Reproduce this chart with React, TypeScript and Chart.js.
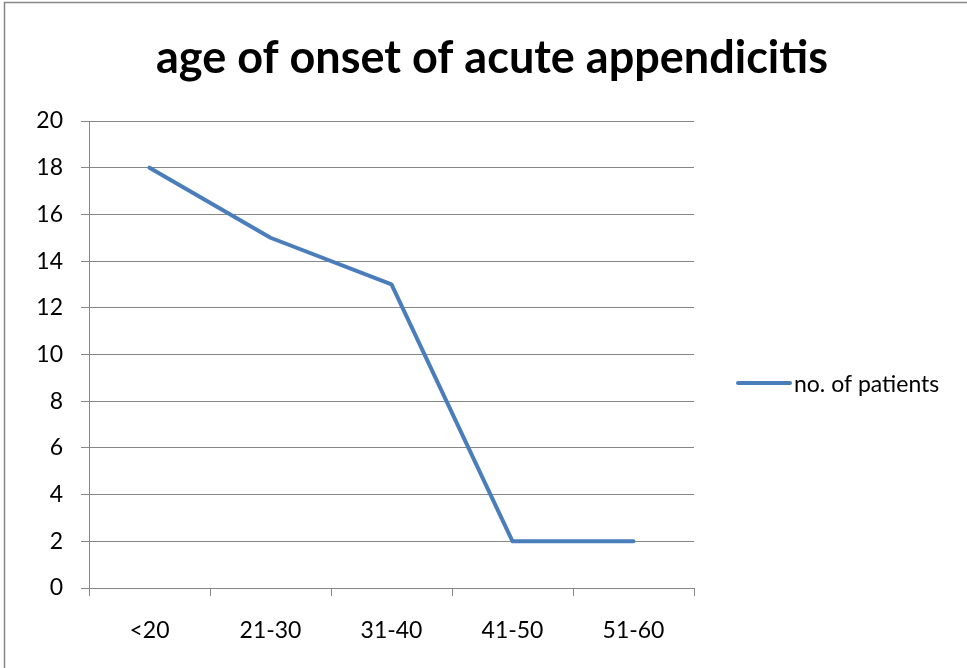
import React, { useEffect, useRef } from "react";
import { Chart, registerables } from "chart.js";

Chart.register(...registerables);

const categories = ["<20", "21-30", "31-40", "41-50", "51-60"];
const patients = [18, 15, 13, 2, 2];
const seriesName = "no. of patients";
const chartTitle = "age of onset of acute appendicitis";

const LINE_COLOR = "#4A7EBB";
const GRID_COLOR = "#868686";
const FONT = "Lato, 'Noto Sans', sans-serif";
const TICK_SIZE = 23;

const decor = {
  id: "decor",
  afterDraw(chart: any) {
    const ctx = chart.ctx;
    ctx.save();
    // outer frame
    ctx.strokeStyle = GRID_COLOR;
    ctx.lineWidth = 1.5;
    ctx.strokeRect(4.5, 2.5, 1000, 700);
    // title
    ctx.fillStyle = "#000";
    ctx.font = `bold 45px ${FONT}`;
    ctx.textAlign = "center";
    ctx.textBaseline = "alphabetic";
    ctx.fillText(chartTitle, 492, 73);
    // legend
    const ly = 383;
    ctx.strokeStyle = LINE_COLOR;
    ctx.lineWidth = 4;
    ctx.lineCap = "round";
    ctx.beginPath();
    ctx.moveTo(738, ly);
    ctx.lineTo(790, ly);
    ctx.stroke();
    ctx.font = `${TICK_SIZE}px ${FONT}`;
    ctx.textAlign = "left";
    ctx.fillText(seriesName, 794, 392);
    ctx.restore();
  },
};

export default function App() {
  const ref = useRef<HTMLCanvasElement>(null);
  useEffect(() => {
    const chart = new Chart(ref.current!, {
      type: "line",
      data: {
        labels: categories,
        datasets: [
          {
            label: seriesName,
            data: patients,
            borderColor: LINE_COLOR,
            backgroundColor: LINE_COLOR,
            borderWidth: 4,
            pointRadius: 0,
            tension: 0,
            borderCapStyle: "round",
            borderJoinStyle: "round",
          },
        ],
      },
      options: {
        animation: false,
        responsive: false,
        layout: { padding: { left: 0, top: 121, right: 273, bottom: 0 } },
        plugins: { legend: { display: false }, title: { display: false }, tooltip: { enabled: false } },
        scales: {
          x: {
            offset: true,
            grid: { offset: true, drawOnChartArea: false, drawTicks: true, tickLength: 8, color: GRID_COLOR, lineWidth: 1 },
            border: { color: GRID_COLOR, width: 1 },
            ticks: { color: "#000", font: { family: FONT, size: TICK_SIZE }, padding: 21, maxRotation: 0 },
            afterFit: (s: any) => { s.height = 80; },
          },
          y: {
            min: 0,
            max: 20,
            ticks: { stepSize: 2, color: "#000", font: { family: FONT, size: TICK_SIZE }, padding: 18 },
            grid: { color: GRID_COLOR, lineWidth: 1, tickLength: 8, drawTicks: true },
            border: { color: GRID_COLOR, width: 1 },
            afterFit: (s: any) => { s.width = 89; },
          },
        },
      },
      plugins: [decor],
    });
    return () => chart.destroy();
  }, []);
  return (
    <div style={{ position: "fixed", left: 0, top: 0, width: 967, height: 668, background: "#fff" }}>
      <canvas ref={ref} width={967} height={668} style={{ width: 967, height: 668, display: "block" }} />
    </div>
  );
}
